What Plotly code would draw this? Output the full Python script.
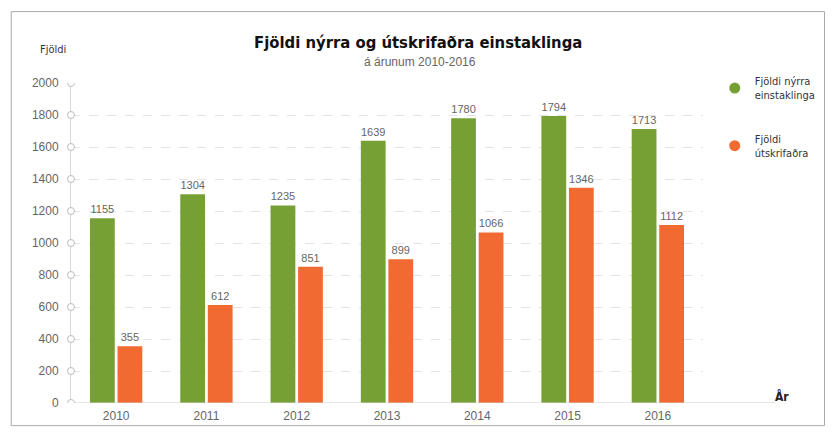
import plotly.graph_objects as go

# Data
years = ["2010", "2011", "2012", "2013", "2014", "2015", "2016"]
new_people = [1155, 1304, 1235, 1639, 1780, 1794, 1713]
graduated = [355, 612, 851, 899, 1066, 1346, 1112]
y_ticks = [0, 200, 400, 600, 800, 1000, 1200, 1400, 1600, 1800, 2000]

GREEN = "#76a034"
ORANGE = "#f06a32"
TEXT_GRAY = "#666666"
NARROW = "DejaVu Sans Condensed, Liberation Sans Narrow, sans-serif"
SANS = "Liberation Sans, Arial, sans-serif"

W, H = 833, 435
L, R, T, B = 71, 117, 83, 27
PW, PH = W - L - R, H - T - B


def px(x):
    return (x - L) / PW


def py(y):
    return (H - B - y) / PH


fig = go.Figure()

fig.add_trace(go.Bar(
    x=years, y=new_people, name="Fjöldi nýrra<br>einstaklinga",
    marker=dict(color=GREEN, line=dict(width=0)),
    text=new_people, textposition="outside", cliponaxis=False,
    textfont=dict(color=TEXT_GRAY, size=11, family=SANS),
    showlegend=False,
))
fig.add_trace(go.Bar(
    x=years, y=graduated, name="Fjöldi<br>útskrifaðra",
    marker=dict(color=ORANGE, line=dict(width=0)),
    text=graduated, textposition="outside", cliponaxis=False,
    textfont=dict(color=TEXT_GRAY, size=11, family=SANS),
    showlegend=False,
))

# Legend entries drawn as round markers
for name, color, grp in [("Fjöldi nýrra<br>einstaklinga", GREEN, "a"),
                         ("Fjöldi<br>útskrifaðra", ORANGE, "b")]:
    fig.add_trace(go.Scatter(
        x=[None], y=[None], mode="markers", name=name, legendgroup=grp,
        marker=dict(color=color, size=11, symbol="circle"),
    ))

shapes = []
# outer frame
shapes.append(dict(type="rect", xref="paper", yref="paper",
                   x0=px(10), x1=px(840), y0=py(431), y1=py(10.5),
                   line=dict(color="#aaaaaa", width=1), layer="below"))
# extended baseline
shapes.append(dict(type="line", xref="paper", yref="y",
                   x0=0, x1=px(790), y0=0, y1=0,
                   line=dict(color="#d0d0d0", width=1)))
# hollow tick markers on the value axis
for v in y_ticks:
    shapes.append(dict(type="circle", xref="paper", yref="y",
                       xsizemode="pixel", ysizemode="pixel",
                       xanchor=0, yanchor=v,
                       x0=-3.5, x1=3.5, y0=-3.5, y1=3.5,
                       line=dict(color="#bdbdbd", width=1),
                       fillcolor="white"))

annotations = [
    dict(text="<b>Fjöldi nýrra og útskrifaðra einstaklinga</b>",
         xref="paper", yref="paper", x=px(425), y=py(42),
         showarrow=False, font=dict(size=16.5, color="#111111", family="DejaVu Sans Condensed, sans-serif"),
         xanchor="center", yanchor="middle"),
    dict(text="á árunum 2010-2016",
         xref="paper", yref="paper", x=px(427), y=py(62),
         showarrow=False, font=dict(size=12, color=TEXT_GRAY, family=SANS),
         xanchor="center", yanchor="middle"),
    dict(text="Fjöldi", xref="paper", yref="paper", x=px(53), y=py(49),
         showarrow=False, font=dict(size=11, color="#333333", family=NARROW),
         xanchor="center", yanchor="middle"),
    dict(text="<b>År</b>", xref="paper", yref="paper", x=px(797), y=py(401),
         showarrow=False, font=dict(size=12, color="#222222", family=NARROW),
         xanchor="center", yanchor="middle"),
]

fig.update_layout(
    width=W, height=H,
    margin=dict(l=L, r=R, t=T, b=B, pad=0),
    paper_bgcolor="white", plot_bgcolor="white",
    barmode="group", bargap=0.39, bargroupgap=0.1,
    shapes=shapes, annotations=annotations,
    showlegend=True,
    legend=dict(x=px(728), y=py(67), xanchor="left", yanchor="top",
                font=dict(size=11, color="#333333", family=NARROW),
                traceorder="grouped", tracegroupgap=26,
                itemwidth=30, bgcolor="rgba(0,0,0,0)"),
    xaxis=dict(type="category", showgrid=False, showline=False, zeroline=False,
               ticks="", tickfont=dict(size=12, color=TEXT_GRAY, family=SANS),
               ticklabelstandoff=4),
    yaxis=dict(range=[0, 2000], tickvals=y_ticks, showgrid=True,
               gridcolor="#e4e4e4", griddash="dash", gridwidth=1,
               zeroline=False, showline=True, linecolor="#d8d8d8", linewidth=1,
               ticks="outside", ticklen=9, tickcolor="rgba(0,0,0,0)",
               tickfont=dict(size=12, color=TEXT_GRAY, family=SANS)),
)

fig.write_html("out.html")
